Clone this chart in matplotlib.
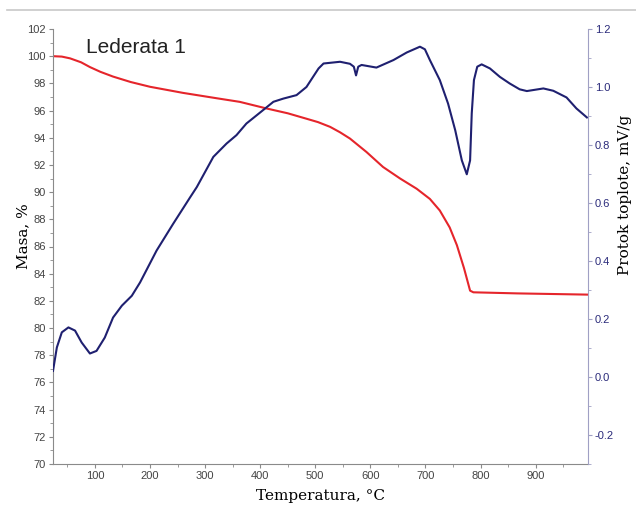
import numpy as np
import matplotlib
matplotlib.use("Agg")
import matplotlib.pyplot as plt
from matplotlib.lines import Line2D
from matplotlib.ticker import MultipleLocator

# mass curve (TG)
mass_temp = [24, 40, 55, 75, 91, 110, 133, 165, 200, 260, 322, 363, 412, 450,
             484, 505, 527, 545, 563, 593, 623, 654, 684, 708, 726, 744, 757,
             770, 781, 787, 867, 995]
mass_pct = [100.0, 99.97, 99.84, 99.55, 99.2, 98.85, 98.5, 98.1, 97.75, 97.3,
            96.9, 96.64, 96.15, 95.8, 95.4, 95.15, 94.8, 94.4, 93.94, 92.95,
            91.85, 91.0, 90.25, 89.5, 88.65, 87.4, 86.1, 84.4, 82.75, 82.63,
            82.55, 82.46]

# heat flow curve (DSC)
heat_temp = [24, 31, 40, 52, 64, 76, 91, 103, 118, 133, 149, 167, 182, 212,
             242, 273, 285, 315, 339, 357, 375, 394, 424, 442, 466, 484, 496,
             506, 515, 545, 563, 570, 574, 578, 584, 611, 642, 666, 690, 699,
             708, 726, 741, 754, 766, 775, 781, 784, 788, 794, 802, 817, 835,
             853, 871, 884, 914, 932, 956, 974, 993]
heat_flow = [0.021, 0.102, 0.154, 0.171, 0.16, 0.119, 0.081, 0.09, 0.136,
             0.205, 0.246, 0.28, 0.326, 0.436, 0.528, 0.62, 0.655, 0.759,
             0.805, 0.834, 0.874, 0.903, 0.949, 0.96, 0.972, 1.0, 1.035,
             1.064, 1.081, 1.087, 1.08, 1.07, 1.04, 1.07, 1.076, 1.067, 1.093,
             1.119, 1.139, 1.13, 1.093, 1.024, 0.943, 0.851, 0.747, 0.699,
             0.747, 0.909, 1.024, 1.07, 1.078, 1.064, 1.035, 1.012, 0.992,
             0.986, 0.995, 0.987, 0.964, 0.926, 0.895]

RED = "#e5252b"
NAVY = "#1f2070"

fig = plt.figure(figsize=(6.36, 5.08), dpi=100)
ax = fig.add_axes([53/636, 1 - 464/508, 535/636, 435/508])
ax2 = ax.twinx()

ax.plot(mass_temp, mass_pct, color=RED, lw=1.5)
ax2.plot(heat_temp, heat_flow, color=NAVY, lw=1.5)

ax.set_xlim(24, 995)
ax.set_ylim(70, 102)
ax2.set_ylim(-0.3, 1.2)

ax.xaxis.set_major_locator(MultipleLocator(100))
ax.xaxis.set_minor_locator(MultipleLocator(50))
ax.yaxis.set_major_locator(MultipleLocator(2))
ax.yaxis.set_minor_locator(MultipleLocator(1))
ax2.yaxis.set_major_locator(MultipleLocator(0.2))
ax2.yaxis.set_minor_locator(MultipleLocator(0.1))

for a in (ax, ax2):
    a.spines["top"].set_visible(False)
ax.spines["left"].set_color("#8a8a8a")
ax.spines["bottom"].set_color("#8a8a8a")
ax.spines["right"].set_visible(False)
ax2.spines["left"].set_visible(False)
ax2.spines["bottom"].set_visible(False)
ax2.spines["right"].set_color("#a0a0c4")

ax.tick_params(axis="both", which="major", direction="out", length=3,
               color="#8a8a8a", labelsize=8, labelcolor="#444444", pad=2)
ax.tick_params(axis="both", which="minor", direction="out", length=2,
               color="#8a8a8a")
ax2.tick_params(axis="y", which="major", direction="out", length=3,
                color="#a0a0c4", labelsize=8, labelcolor="#2a2a7a", pad=2)
ax2.tick_params(axis="y", which="minor", direction="out", length=2,
                color="#a0a0c4")
ax2.set_yticks(ax2.get_yticks())
ax2.set_yticklabels([f"{v:.1f}" for v in ax2.get_yticks()])
ax2.set_ylim(-0.3, 1.2)
for lab in ax.get_xticklabels() + ax.get_yticklabels() + ax2.get_yticklabels():
    lab.set_family("Liberation Sans")

ax.set_xlabel("Temperatura, °C", family="DejaVu Serif", fontsize=11, labelpad=6)
ax.set_ylabel("Masa, %", family="DejaVu Serif", fontsize=11)
ax2.set_ylabel("Protok toplote, mV/g", family="DejaVu Serif", fontsize=11)
ax.yaxis.set_label_coords(-0.043, 0.524)
ax2.yaxis.set_label_coords(1.056, 0.618)

ax.text(0.062, 0.945, "Lederata 1", transform=ax.transAxes, fontsize=15,
        family="Liberation Sans", color="#222222", va="baseline")

# thin grey rule at the top of the picture
fig.add_artist(Line2D([7/636, 1], [1 - 10/508, 1 - 10/508], color="#c8c8c8",
                      lw=1.2, transform=fig.transFigure))

fig.savefig("out.png", dpi=100)
